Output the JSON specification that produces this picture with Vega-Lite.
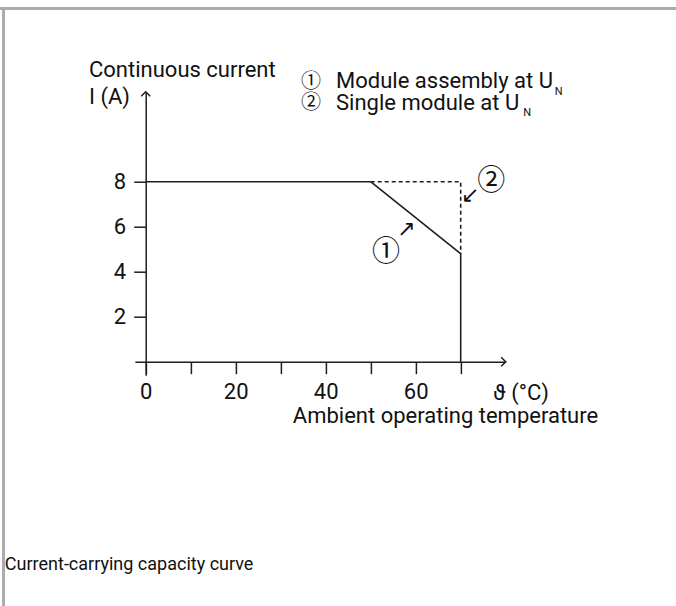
{
  "$schema": "https://vega.github.io/schema/vega-lite/v6.json",
  "width": 370.8,
  "height": 283.5,
  "autosize": {"type": "none"},
  "padding": {"left": 134.9, "top": 91.7, "right": 170.3, "bottom": 230.8},
  "background": "white",
  "config": {"view": {"stroke": null}, "font": "Roboto"},
  "datasets": {
    "curves": [
      {"series": "Module assembly", "t": 0, "i": 8, "o": 1},
      {"series": "Module assembly", "t": 50, "i": 8, "o": 2},
      {"series": "Module assembly", "t": 70, "i": 4.8, "o": 3},
      {"series": "Module assembly", "t": 70, "i": 0, "o": 4},
      {"series": "Single module", "t": 50, "i": 8, "o": 1},
      {"series": "Single module", "t": 70, "i": 8, "o": 2},
      {"series": "Single module", "t": 70, "i": 4.8, "o": 3}
    ],
    "border": [
      {"x": -32.4, "x2": 120, "y": 15.7, "y2": 15.7},
      {"x": -31.6, "x2": -31.6, "y": 15.77, "y2": -11}
    ],
    "axislabels": [
      {"x": -12.6, "y": 12.67, "label": "Continuous current"},
      {"x": -12.6, "y": 11.45, "label": "I (A)"},
      {"x": 77.2, "y": -1.72, "label": "ϑ (°C)"},
      {"x": 32.7, "y": -2.74, "label": "Ambient operating temperature"}
    ],
    "legendlabels": [
      {"x": 42.3, "y": 12.16, "label": "Module assembly at U"},
      {"x": 42.3, "y": 11.19, "label": "Single module at U"}
    ],
    "subs": [
      {"x": 90.9, "y": 11.84, "label": "N"},
      {"x": 83.9, "y": 10.9, "label": "N"}
    ],
    "legendmarks": [
      {"x": 36.73, "y": 12.42, "label": "①"},
      {"x": 36.73, "y": 11.5, "label": "②"}
    ],
    "markers": [
      {"x": 76.8, "y": 7.99, "label": "②"},
      {"x": 53.4, "y": 4.82, "label": "①"}
    ],
    "arrows": [
      {"x": 72.1, "y": 7.42, "label": "↙"},
      {"x": 57.9, "y": 5.92, "label": "↗"}
    ],
    "caption": [
      {"x": -31.3, "y": -9.25, "label": "Current-carrying capacity curve"}
    ]
  },
  "layer": [
    {
      "data": {"name": "curves"},
      "mark": {"type": "line", "color": "#1e1e1e", "strokeWidth": 1.6},
      "encoding": {
        "x": {
          "field": "t", "type": "quantitative",
          "scale": {"domain": [-2.4, 80], "nice": false, "zero": false},
          "axis": {
            "title": null, "grid": false, "offset": -13.5,
            "values": [0, 10, 20, 30, 40, 50, 60, 70],
            "labelExpr": "datum.value % 20 === 0 ? datum.label : ''",
            "tickSize": 12, "tickWidth": 1.5, "tickColor": "#1e1e1e",
            "domainColor": "#1e1e1e", "domainWidth": 1.5,
            "labelFont": "Roboto",
            "labelFontSize": 22, "labelColor": "#111111", "labelPadding": 8, "labelFlush": false
          }
        },
        "y": {
          "field": "i", "type": "quantitative",
          "scale": {"domain": [-0.6, 12], "nice": false, "zero": false},
          "axis": {
            "title": null, "grid": false, "offset": -10.8,
            "values": [2, 4, 6, 8],
            "tickSize": 12, "tickWidth": 1.5, "tickColor": "#1e1e1e",
            "domainColor": "#1e1e1e", "domainWidth": 1.5,
            "labelFont": "Roboto",
            "labelFontSize": 22, "labelColor": "#111111", "labelPadding": 8, "labelFlush": false
          }
        },
        "strokeDash": {
          "field": "series", "type": "nominal",
          "scale": {"domain": ["Module assembly", "Single module"], "range": [[1, 0], [4, 3]]},
          "legend": null
        },
        "detail": {"field": "series"},
        "order": {"field": "o", "type": "quantitative"}
      }
    },
    {
      "data": {"values": [{"x": 80, "y": 0}]},
      "mark": {"type": "point", "shape": "M-1,-1L0,0L-1,1", "filled": false, "stroke": "#1e1e1e", "strokeWidth": 1.5, "size": 81, "opacity": 1},
      "encoding": {"x": {"field": "x", "type": "quantitative"}, "y": {"field": "y", "type": "quantitative"}}
    },
    {
      "data": {"values": [{"x": 0, "y": 12}]},
      "mark": {"type": "point", "shape": "M-1,1L0,0L1,1", "filled": false, "stroke": "#1e1e1e", "strokeWidth": 1.5, "size": 81, "opacity": 1},
      "encoding": {"x": {"field": "x", "type": "quantitative"}, "y": {"field": "y", "type": "quantitative"}}
    },
    {
      "data": {"name": "border"},
      "mark": {"type": "rule", "color": "#ababab", "strokeWidth": 3},
      "encoding": {
        "x": {"field": "x", "type": "quantitative"}, "x2": {"field": "x2"},
        "y": {"field": "y", "type": "quantitative"}, "y2": {"field": "y2"}
      }
    },
    {
      "data": {"name": "axislabels"},
      "mark": {"type": "text", "align": "left", "baseline": "alphabetic", "fontSize": 22, "color": "#111111"},
      "encoding": {
        "x": {"field": "x", "type": "quantitative"}, "y": {"field": "y", "type": "quantitative"},
        "text": {"field": "label"}
      }
    },
    {
      "data": {"name": "legendlabels"},
      "mark": {"type": "text", "align": "left", "baseline": "alphabetic", "fontSize": 22, "color": "#111111"},
      "encoding": {
        "x": {"field": "x", "type": "quantitative"}, "y": {"field": "y", "type": "quantitative"},
        "text": {"field": "label"}
      }
    },
    {
      "data": {"name": "subs"},
      "mark": {"type": "text", "align": "left", "baseline": "alphabetic", "fontSize": 11, "color": "#111111"},
      "encoding": {
        "x": {"field": "x", "type": "quantitative"}, "y": {"field": "y", "type": "quantitative"},
        "text": {"field": "label"}
      }
    },
    {
      "data": {"name": "legendmarks"},
      "mark": {"type": "text", "align": "center", "baseline": "middle", "fontSize": 20, "font": "Noto Sans CJK JP", "color": "#111111"},
      "encoding": {
        "x": {"field": "x", "type": "quantitative"}, "y": {"field": "y", "type": "quantitative"},
        "text": {"field": "label"}
      }
    },
    {
      "data": {"name": "markers"},
      "mark": {"type": "text", "align": "center", "baseline": "middle", "fontSize": 28, "font": "Noto Sans CJK JP", "color": "#111111"},
      "encoding": {
        "x": {"field": "x", "type": "quantitative"}, "y": {"field": "y", "type": "quantitative"},
        "text": {"field": "label"}
      }
    },
    {
      "data": {"name": "arrows"},
      "mark": {"type": "text", "align": "center", "baseline": "middle", "fontSize": 22, "font": "DejaVu Sans", "color": "#111111"},
      "encoding": {
        "x": {"field": "x", "type": "quantitative"}, "y": {"field": "y", "type": "quantitative"},
        "text": {"field": "label"}
      }
    },
    {
      "data": {"name": "caption"},
      "mark": {"type": "text", "align": "left", "baseline": "alphabetic", "fontSize": 18, "font": "Roboto", "color": "#111111"},
      "encoding": {
        "x": {"field": "x", "type": "quantitative"}, "y": {"field": "y", "type": "quantitative"},
        "text": {"field": "label"}
      }
    }
  ]
}
